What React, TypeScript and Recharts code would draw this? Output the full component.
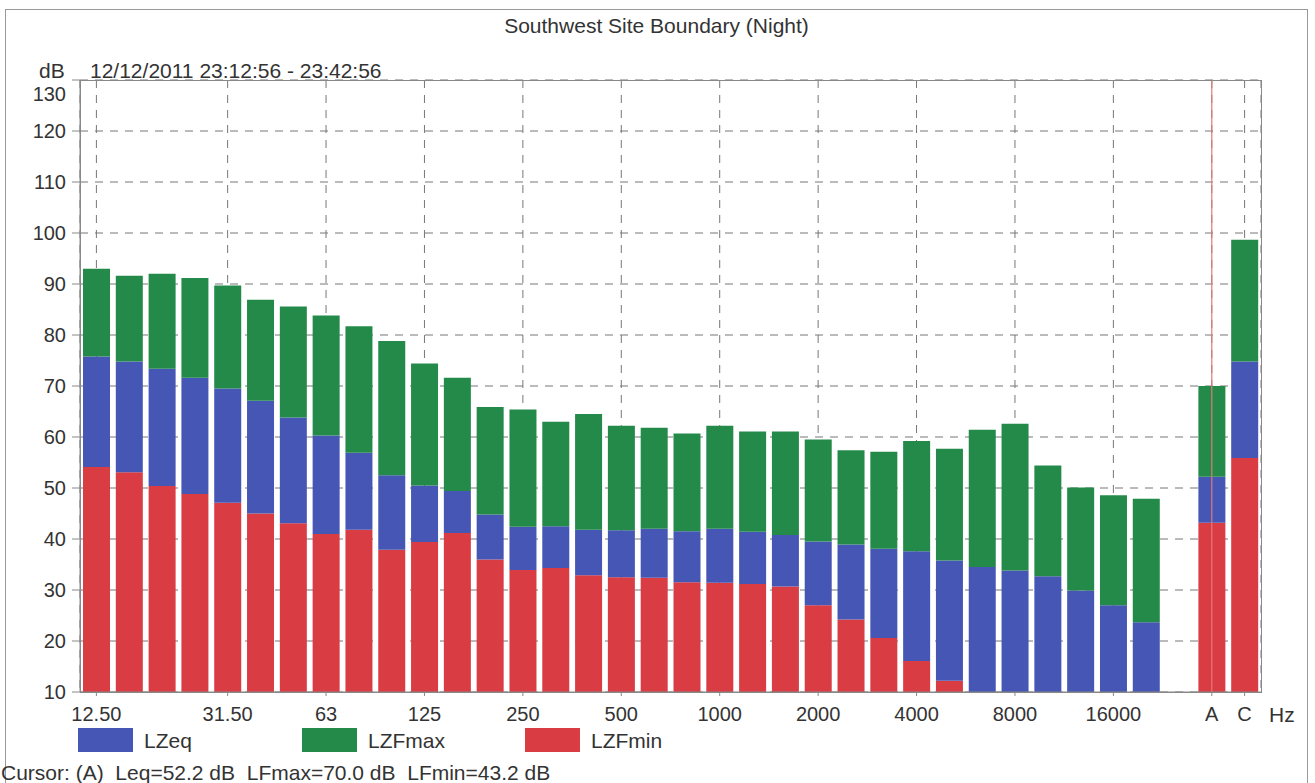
import { BarChart, Bar, XAxis, YAxis, CartesianGrid, ReferenceLine } from "recharts";

// 1/3 octave bands, then an empty slot, then the A and C weighted totals
const bands = [
  "12.50", "16", "20", "25", "31.50", "40", "50", "63", "80", "100", "125", "160",
  "200", "250", "315", "400", "500", "630", "800", "1000", "1250", "1600", "2000", "2500",
  "3150", "4000", "5000", "6300", "8000", "10000", "12500", "16000", "20000", " ", "A", "C",
];

const lzfmax = [
  93.0, 91.6, 92.0, 91.2, 89.7, 86.9, 85.6, 83.8, 81.7, 78.8, 74.4, 71.6,
  65.9, 65.4, 63.0, 64.5, 62.2, 61.8, 60.7, 62.2, 61.1, 61.1, 59.5, 57.4,
  57.1, 59.2, 57.7, 61.4, 62.6, 54.4, 50.1, 48.6, 47.9, null, 70.0, 98.7,
];

const lzeq = [
  75.8, 74.8, 73.4, 71.6, 69.5, 67.1, 63.8, 60.3, 56.9, 52.5, 50.5, 49.4,
  44.8, 42.4, 42.5, 41.8, 41.7, 42.0, 41.5, 42.0, 41.4, 40.8, 39.5, 38.9,
  38.1, 37.6, 35.8, 34.5, 33.8, 32.7, 29.9, 27.0, 23.7, null, 52.2, 74.8,
];

// null = below the 10 dB floor of the axis
const lzfmin = [
  54.1, 53.1, 50.4, 48.8, 47.1, 45.0, 43.1, 41.0, 41.8, 37.9, 39.4, 41.2,
  36.0, 33.9, 34.3, 32.9, 32.5, 32.4, 31.5, 31.4, 31.2, 30.7, 27.0, 24.2,
  20.6, 16.1, 12.2, null, null, null, null, null, null, null, 43.2, 55.9,
];

const xTicks = ["12.50", "31.50", "63", "125", "250", "500", "1000", "2000", "4000", "8000", "16000", "A", "C"];
const yTicks = [10, 20, 30, 40, 50, 60, 70, 80, 90, 100, 110, 120, 130];

const legends = [
  { label: "LZeq", color: "#4656b4", left: 78 },
  { label: "LZFmax", color: "#238a4a", left: 302 },
  { label: "LZFmin", color: "#d93c43", left: 525 },
];

const FLOOR = 10;

const data = bands.map((band, i) => ({ band, max: lzfmax[i], eq: lzeq[i], min: lzfmin[i] }));

const font = "'Liberation Sans', Arial, sans-serif";
const textColor = "#333";

const YTick = (props: any) => {
  const { x, y, payload } = props;
  // the top label sits below its tick, inside the frame
  const dy = payload.value === 130 ? 21 : 7;
  return (
    <text x={x} y={y + dy} textAnchor="end" fontSize={20} fill={textColor} fontFamily={font}>
      {payload.value}
    </text>
  );
};

const label = (left: number, top: number, text: string, extra: any = {}) => (
  <div
    style={{
      position: "absolute",
      left,
      top,
      fontSize: 21,
      lineHeight: "21px",
      color: textColor,
      fontFamily: font,
      whiteSpace: "pre",
      ...extra,
    }}
  >
    {text}
  </div>
);

export default function App() {
  return (
    <div
      style={{
        position: "fixed",
        left: 0,
        top: 0,
        width: 1315,
        height: 783,
        background: "#fff",
        overflow: "hidden",
      }}
    >
      {/* outer frame */}
      <div
        style={{
          position: "absolute",
          left: 5,
          top: 9,
          width: 1303,
          height: 800,
          boxSizing: "border-box",
          border: "1px solid #999",
        }}
      />

      {label(0, 15, "Southwest Site Boundary (Night)", { width: 1313, textAlign: "center" })}
      {label(39, 60, "dB")}
      {label(90, 60, "12/12/2011 23:12:56 - 23:42:56")}
      {label(1269, 704, "Hz")}

      <div style={{ position: "absolute", left: 0, top: 0 }}>
        <BarChart
          width={1315}
          height={783}
          data={data}
          margin={{ top: 80, right: 54, bottom: 61, left: 0 }}
          barSize={27}
          barGap={-27}
        >
          <CartesianGrid stroke="#777" strokeDasharray="8 7" />
          <XAxis
            dataKey="band"
            ticks={xTicks}
            interval={0}
            height={30}
            tickSize={4}
            tickMargin={11}
            stroke="#888"
            tick={{ fontSize: 20, fill: textColor, fontFamily: font }}
          />
          <YAxis
            domain={[10, 130]}
            ticks={yTicks}
            allowDataOverflow
            width={80}
            tickSize={8}
            tickMargin={6}
            stroke="#888"
            tick={<YTick />}
          />
          <Bar
            dataKey={(d: any) => (d.min == null ? null : [FLOOR, d.min])}
            fill="#d93c43"
            isAnimationActive={false}
          />
          <Bar
            dataKey={(d: any) => (d.eq == null ? null : [d.min ?? FLOOR, d.eq])}
            fill="#4656b4"
            isAnimationActive={false}
          />
          <Bar
            dataKey={(d: any) => (d.max == null ? null : [d.eq, d.max])}
            fill="#238a4a"
            isAnimationActive={false}
          />
          <ReferenceLine x="A" stroke="#e07a7a" strokeWidth={1.2} />
        </BarChart>
      </div>

      {/* plot frame */}
      <div
        style={{
          position: "absolute",
          left: 80,
          top: 80,
          width: 1182,
          height: 613,
          boxSizing: "border-box",
          border: "1px solid #888",
          pointerEvents: "none",
        }}
      />

      {legends.map((item) => (
        <div key={item.label}>
          <div
            style={{
              position: "absolute",
              left: item.left,
              top: 728,
              width: 55,
              height: 24,
              background: item.color,
            }}
          />
          {label(item.left + 66, 730, item.label)}
        </div>
      ))}

      {label(1, 762, "Cursor: (A)  Leq=52.2 dB  LFmax=70.0 dB  LFmin=43.2 dB")}
    </div>
  );
}
